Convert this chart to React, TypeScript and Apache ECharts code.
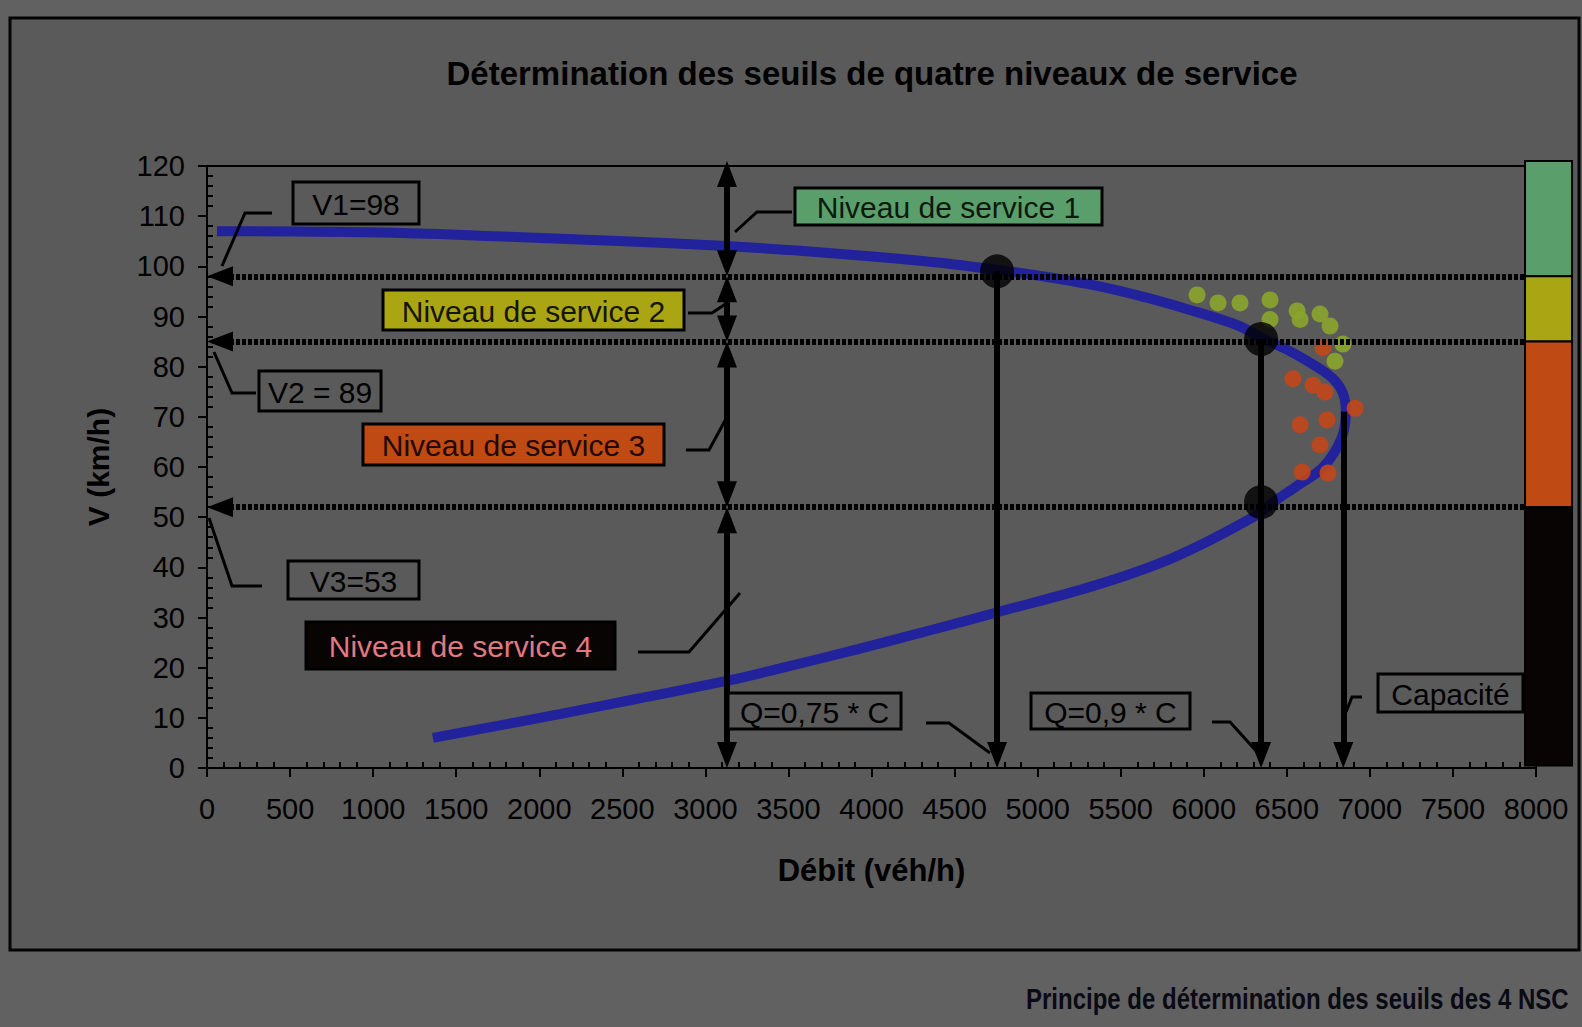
import React, { useEffect, useRef } from 'react';
import * as echarts from 'echarts';

// ---------- data ----------
const curveFlow = [1360, 2130, 2590, 3150, 3443, 3919, 4394, 4774, 5346, 5821, 6297, 6440, 6560, 6720, 6830, 6855, 6840, 6778, 6650, 6500, 6345, 6200, 5917, 5616, 5315, 5014, 4756, 4412, 4060, 3570, 3150, 2440, 1820, 1120, 60];
const curveSpeed = [6, 10.8, 13.8, 17.5, 19.8, 23.7, 27.8, 31.2, 36.4, 42, 50, 53.5, 56.2, 60, 65.8, 71, 74.5, 77.6, 80.6, 83.4, 85.8, 88.3, 91.3, 94.1, 96.4, 98.1, 99.3, 100.7, 101.8, 103.1, 104, 105.1, 105.9, 106.7, 107];

const greenFlow = [5960, 6086, 6218, 6399, 6399, 6562, 6580, 6700, 6760, 6838, 6790];
const greenSpeed = [94.3, 92.7, 92.7, 93.3, 89.4, 91.1, 89.4, 90.5, 88.1, 84.5, 81.1];
const orangeFlow = [6718, 6537, 6658, 6730, 6911, 6580, 6742, 6700, 6592, 6748];
const orangeSpeed = [83.8, 77.6, 76.3, 74.9, 71.7, 68.4, 69.4, 64.4, 59.0, 58.8];

const thresholds = [98, 85, 52];
const levelBounds = [121, 98, 85, 52, 0];
const serviceBands = [[98, 121], [85, 98], [52, 85], [0.5, 52]];
const levelAxisFlow = 3130;
const dotFlow = [4756, 6345, 6345];
const dotSpeed = [99, 85.5, 53];
const dropFlow = [4756, 6345, 6840];
const dropSpeed = [99, 85.5, 71];

const xMin = 0, xMax = 8000, xStep = 500;
const yMin = 0, yMax = 120, yStep = 10;

// ---------- layout / style ----------
const W = 1582, H = 1027;
const GRID = { left: 207, top: 166, width: 1329, height: 602 };
const BAR_FLOW = [7934, 8217];
const FONT = '"Liberation Sans", Arial, Helvetica, sans-serif';
const BG_OUT = '#616161';
const BG_IN = '#5a5a5a';
const bandColors = ['#5a9e6c', '#aaa512', '#c04a14', '#080404'];
const ARROW_W = 20, ARROW_L = 26;

const boxes = [
  { text: 'V1=98', x: 293, y: 182, w: 126, h: 42, fill: BG_IN, color: '#000' },
  { text: 'Niveau de service 1', x: 795, y: 188, w: 307, h: 37, fill: '#5a9e6c', color: '#0c1a0c' },
  { text: 'Niveau de service 2', x: 383, y: 290, w: 301, h: 40, fill: '#aaa512', color: '#141400' },
  { text: 'V2 = 89', x: 259, y: 371, w: 122, h: 40, fill: BG_IN, color: '#000' },
  { text: 'Niveau de service 3', x: 363, y: 424, w: 301, h: 41, fill: '#c04a14', color: '#220800' },
  { text: 'V3=53', x: 288, y: 561, w: 131, h: 38, fill: BG_IN, color: '#000' },
  { text: 'Niveau de service 4', x: 306, y: 622, w: 309, h: 47, fill: '#080404', color: '#e07a80' },
  { text: 'Q=0,75 * C', x: 728, y: 693, w: 173, h: 36, fill: BG_IN, color: '#000' },
  { text: 'Q=0,9 * C', x: 1031, y: 693, w: 159, h: 36, fill: BG_IN, color: '#000' },
  { text: 'Capacité', x: 1378, y: 674, w: 145, h: 38, fill: BG_IN, color: '#000' },
];

const leaders = [
  [[272, 213], [245, 213], [222, 266]],
  [[256, 393], [232, 393], [214, 352]],
  [[262, 586], [232, 586], [209, 518]],
  [[792, 212], [757, 212], [735, 232]],
  [[688, 313], [712, 313], [727, 303]],
  [[686, 450], [709, 450], [727, 417]],
  [[638, 652], [689, 652], [740, 593]],
  [[926, 723], [949, 723], [990, 753]],
  [[1212, 722], [1230, 722], [1258, 753]],
  [[1362, 697], [1352, 697], [1346, 712]],
];

export default function App() {
  const ref = useRef<HTMLDivElement>(null);
  useEffect(() => {
    const chart = echarts.init(ref.current as HTMLDivElement, null, { renderer: 'svg', width: W, height: H });
    const pxPerFlow = GRID.width / (xMax - xMin);
    const pxPerSpeed = GRID.height / (yMax - yMin);
    const insetV = ARROW_L / 2 / pxPerSpeed;
    const insetF = ARROW_L / 2 / pxPerFlow;
    const arrow = { symbol: 'triangle', symbolSize: [ARROW_W, ARROW_L] };
    const solid = { color: '#000', width: 6, type: 'solid' };

    const markData: any[] = [];
    thresholds.forEach((v) => {
      markData.push([
        { coord: [xMax, v], symbol: 'none', lineStyle: { color: '#000', width: 6, type: [4, 2] } },
        { coord: [insetF, v], ...arrow },
      ]);
    });
    for (let i = 0; i < levelBounds.length - 1; i++) {
      markData.push([
        { coord: [levelAxisFlow, levelBounds[i] - insetV], ...arrow, lineStyle: solid },
        { coord: [levelAxisFlow, levelBounds[i + 1] + insetV], ...arrow },
      ]);
    }
    dropFlow.forEach((f, i) => {
      markData.push([
        { coord: [f, dropSpeed[i]], symbol: 'none', lineStyle: solid },
        { coord: [f, insetV], ...arrow },
      ]);
    });

    const graphics: any[] = [
      { type: 'rect', z: -10, shape: { x: 10, y: 18, width: 1569, height: 932 }, style: { fill: BG_IN, stroke: '#050505', lineWidth: 3 } },
      {
        type: 'text', x: 872, y: 73, z: 20,
        style: { text: 'Détermination des seuils de quatre niveaux de service', fontSize: 33, fontWeight: 'bold', fontFamily: FONT, fill: '#000', align: 'center', verticalAlign: 'middle', textAlign: 'center', textVerticalAlign: 'middle' },
      },
      {
        type: 'text', x: 1026, y: 999, z: 20, scaleX: 0.8,
        style: { text: 'Principe de détermination des seuils des 4 NSC', fontSize: 30, fontWeight: 'bold', fontFamily: FONT, fill: '#0a0a14', align: 'left', verticalAlign: 'middle', textAlign: 'left', textVerticalAlign: 'middle' },
      },
    ];
    leaders.forEach((pts) => {
      graphics.push({ type: 'polyline', z: 19, shape: { points: pts }, style: { stroke: '#000', lineWidth: 3, fill: 'none' } });
    });
    boxes.forEach((b) => {
      graphics.push({ type: 'rect', z: 20, shape: { x: b.x, y: b.y, width: b.w, height: b.h }, style: { fill: b.fill, stroke: '#000', lineWidth: 3 } });
      graphics.push({
        type: 'text', z: 21, x: b.x + b.w / 2, y: b.y + b.h / 2 + 1,
        style: { text: b.text, fontSize: 30, fontFamily: FONT, fill: b.color, align: 'center', verticalAlign: 'middle', textAlign: 'center', textVerticalAlign: 'middle' },
      });
    });

    const axisLabel = { color: '#000', fontSize: 29, fontFamily: FONT, formatter: (v: number) => String(v) };
    const axisLine = { show: true, lineStyle: { color: '#000', width: 2 } };
    const tickLine = { color: '#000', width: 2 };

    const option: any = {
      animation: false,
      backgroundColor: BG_OUT,
      grid: { ...GRID, show: true, borderColor: '#000', borderWidth: 2, backgroundColor: 'transparent' },
      xAxis: [
        {
          type: 'value', min: xMin, max: xMax, interval: xStep, position: 'bottom',
          axisLine, axisTick: { show: true, length: 9, lineStyle: tickLine },
          axisLabel: { ...axisLabel, margin: 26 }, splitLine: { show: false },
          name: 'Débit (véh/h)', nameLocation: 'middle', nameGap: 87,
          nameTextStyle: { fontSize: 31, fontWeight: 'bold', color: '#000', fontFamily: FONT },
        },
        {
          type: 'value', min: xMin, max: xMax, interval: xStep, position: 'bottom',
          axisLine: { show: false }, axisTick: { show: false, inside: true }, axisLabel: { show: false }, splitLine: { show: false },
          minorTick: { show: true, splitNumber: 5, length: 6, lineStyle: tickLine },
        },
      ],
      yAxis: [
        {
          type: 'value', min: yMin, max: yMax, interval: yStep, position: 'left',
          axisLine, axisTick: { show: true, length: 9, lineStyle: tickLine },
          axisLabel: { ...axisLabel, margin: 22 }, splitLine: { show: false },
          name: 'V (km/h)', nameLocation: 'middle', nameGap: 94, nameRotate: 90,
          nameTextStyle: { fontSize: 30, fontWeight: 'bold', color: '#000', fontFamily: FONT },
        },
        {
          type: 'value', min: yMin, max: yMax, interval: yStep, position: 'left',
          axisLine: { show: false }, axisTick: { show: false, inside: true }, axisLabel: { show: false }, splitLine: { show: false },
          minorTick: { show: true, splitNumber: 5, length: 6, lineStyle: tickLine },
        },
      ],
      series: [
        {
          name: 'Courbe débit-vitesse', type: 'line', xAxisIndex: 0, yAxisIndex: 0, z: 3,
          data: curveFlow.map((f, i) => [f, curveSpeed[i]]),
          showSymbol: false, smooth: 0.35,
          lineStyle: { color: '#22229c', width: 10 },
        },
        {
          name: 'Mesures NS2', type: 'scatter', xAxisIndex: 0, yAxisIndex: 0, z: 4,
          data: greenFlow.map((f, i) => [f, greenSpeed[i]]),
          symbolSize: 17, itemStyle: { color: '#8aa42c', opacity: 0.9 },
        },
        {
          name: 'Mesures NS3', type: 'scatter', xAxisIndex: 0, yAxisIndex: 0, z: 4,
          data: orangeFlow.map((f, i) => [f, orangeSpeed[i]]),
          symbolSize: 17, itemStyle: { color: '#c2461a', opacity: 0.9 },
        },
        {
          name: 'Seuils', type: 'scatter', xAxisIndex: 0, yAxisIndex: 0, z: 6,
          data: dotFlow.map((f, i) => [f, dotSpeed[i]]),
          symbolSize: 34, itemStyle: { color: '#000' },
          markLine: {
            silent: true, animation: false, z: 5,
            symbol: ['none', 'none'],
            label: { show: false },
            lineStyle: { color: '#000', width: 6, type: 'solid' },
            emphasis: { disabled: true },
            data: markData,
          },
        },
        {
          name: 'Niveaux', type: 'custom', xAxisIndex: 0, yAxisIndex: 0, z: 10, silent: true, clip: false,
          data: serviceBands.map((b, i) => [b[0], b[1], i]),
          renderItem: (_params: any, api: any) => {
            const lo = api.value(0), hi = api.value(1), idx = api.value(2);
            const p0 = api.coord([BAR_FLOW[0], hi]);
            const p1 = api.coord([BAR_FLOW[1], lo]);
            return {
              type: 'rect',
              shape: { x: p0[0], y: p0[1], width: p1[0] - p0[0], height: p1[1] - p0[1] },
              style: { fill: bandColors[idx], stroke: '#000', lineWidth: 2 },
            };
          },
        },
      ],
      graphic: graphics,
    };
    chart.setOption(option);
    return () => chart.dispose();
  }, []);
  return <div ref={ref} style={{ position: 'absolute', left: 0, top: 0, width: W, height: H }} />;
}
